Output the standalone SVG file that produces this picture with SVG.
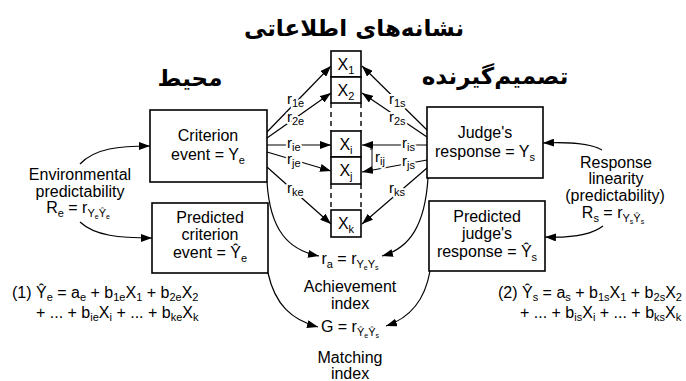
<svg xmlns="http://www.w3.org/2000/svg" width="686" height="381" viewBox="0 0 686 381">
<defs>
<marker id="ah" markerUnits="userSpaceOnUse" markerWidth="11" markerHeight="8" refX="11" refY="4" orient="auto">
<path d="M0,0 L11,4 L0,8 z" fill="#000"/>
</marker>
<style>
.box{fill:#fff;stroke:#000;stroke-width:1.6}
.ln{fill:none;stroke:#000;stroke-width:1.2;marker-end:url(#ah)}
.dash{fill:none;stroke:#000;stroke-width:1.4;stroke-dasharray:5,4}
.t{font-family:"Liberation Sans",Arial,sans-serif;font-size:16px;fill:#000;text-anchor:middle}
.st{text-anchor:start}
.s{font-size:11px}
.ss{font-size:7px}
.r{font-family:"Liberation Sans",Arial,sans-serif;font-size:15px;fill:#000;text-anchor:start;stroke:#fff;stroke-width:4px;paint-order:stroke;stroke-linejoin:round}
.fa{font-family:"DejaVu Sans","Noto Sans",sans-serif;font-weight:bold;font-size:23px;fill:#000;text-anchor:middle}
</style>
</defs>
<rect width="686" height="381" fill="#fff"/>

<text class="fa" x="354" y="36">نشانه‌های اطلاعاتی</text>
<text class="fa" x="190" y="86">محیط</text>
<text class="fa" x="495" y="84">تصمیم‌گیرنده</text>

<g id="connectors">
<path class="ln" d="M267,132 L331,66"/>
<path class="ln" d="M267,138 L331,93"/>
<path class="ln" d="M267,145 L331,145"/>
<path class="ln" d="M267,152 L331,171"/>
<path class="ln" d="M267,167 L331,224"/>
<path class="ln" d="M427,130 L362,66"/>
<path class="ln" d="M427,137 L362,93"/>
<path class="ln" d="M427,145 L362,145"/>
<path class="ln" d="M427,160 L362,172"/>
<path class="ln" d="M427,168 L362,224"/>
<path class="ln" d="M80,164 C95,148 120,146 150,146"/>
<path class="ln" d="M80,222 C95,236 120,238 152,238"/>
<path class="ln" d="M602,150 C590,143 570,142 543,143"/>
<path class="ln" d="M603,226 C590,236 570,238 545,237"/>
<path class="ln" d="M267,182 C270,230 288,250 319,256"/>
<path class="ln" d="M268,273 C275,305 292,320 318,327"/>
<path class="ln" d="M428,178 C425,225 410,248 382,256"/>
<path class="ln" d="M430,271 C425,300 410,318 386,326"/>
<path d="M370,149 L372,149 L372,169 L370,169" fill="none" stroke="#000" stroke-width="1"/>
<text class="r" x="287" y="104">r<tspan class="s" dy="3">1e</tspan></text>
<text class="r" x="287" y="122">r<tspan class="s" dy="3">2e</tspan></text>
<text class="r" x="287" y="148">r<tspan class="s" dy="3">ie</tspan></text>
<text class="r" x="287" y="164">r<tspan class="s" dy="3">je</tspan></text>
<text class="r" x="287" y="193">r<tspan class="s" dy="3">ke</tspan></text>
<text class="r" x="389" y="104">r<tspan class="s" dy="3">1s</tspan></text>
<text class="r" x="389" y="122">r<tspan class="s" dy="3">2s</tspan></text>
<text class="r" x="402" y="148">r<tspan class="s" dy="3">is</tspan></text>
<text class="r" x="402" y="166">r<tspan class="s" dy="3">js</tspan></text>
<text class="r" x="389" y="193">r<tspan class="s" dy="3">ks</tspan></text>
<text class="r" x="375" y="162">r<tspan class="s" dy="3">ij</tspan></text>
</g>

<g id="cues">
<path class="dash" d="M331,103 V131 M361,103 V131 M331,184 V210 M361,184 V210"/>
<g id="x1"><rect class="box" x="331" y="51" width="30" height="26"/><text class="t" x="346" y="70">X<tspan class="s" dy="4">1</tspan></text></g>
<g id="x2"><rect class="box" x="331" y="77" width="30" height="26"/><text class="t" x="346" y="96">X<tspan class="s" dy="4">2</tspan></text></g>
<g id="xi"><rect class="box" x="331" y="131" width="30" height="26"/><text class="t" x="346" y="150">X<tspan class="s" dy="4">i</tspan></text></g>
<g id="xj"><rect class="box" x="331" y="157" width="30" height="27"/><text class="t" x="346" y="176">X<tspan class="s" dy="4">j</tspan></text></g>
<g id="xk"><rect class="box" x="331" y="210" width="30" height="27"/><text class="t" x="346" y="229">X<tspan class="s" dy="4">k</tspan></text></g>
</g>

<g id="criterion"><rect class="box" x="150" y="110" width="117" height="72"/>
<text class="t" x="208" y="141">Criterion</text>
<text class="t" x="208" y="160">event = Y<tspan class="s" dy="4">e</tspan></text></g>

<g id="predicted-criterion"><rect class="box" x="152" y="203" width="116" height="70"/>
<text class="t" x="210" y="223">Predicted</text>
<text class="t" x="210" y="240">criterion</text>
<text class="t" x="210" y="258">event = Ŷ<tspan class="s" dy="4">e</tspan></text></g>

<g id="judge"><rect class="box" x="427" y="107" width="116" height="71"/>
<text class="t" x="485" y="138">Judge's</text>
<text class="t" x="485" y="157">response = Y<tspan class="s" dy="4">s</tspan></text></g>

<g id="predicted-judge"><rect class="box" x="429" y="201" width="116" height="70"/>
<text class="t" x="487" y="222">Predicted</text>
<text class="t" x="487" y="239">judge's</text>
<text class="t" x="487" y="257">response = Ŷ<tspan class="s" dy="4">s</tspan></text></g>

<g id="env-predictability">
<text class="t" x="80" y="180">Environmental</text>
<text class="t" x="80" y="197">predictability</text>
<text class="t" x="78" y="213">R<tspan class="s" dy="4">e</tspan><tspan dy="-4"> = r</tspan><tspan class="s" dy="4">Y</tspan><tspan class="ss" dy="2">e</tspan><tspan class="s" dy="-2">Ŷ</tspan><tspan class="ss" dy="2">e</tspan></text>
</g>

<g id="response-linearity">
<text class="t" x="616" y="168">Response</text>
<text class="t" x="616" y="184">linearity</text>
<text class="t" x="615" y="201">(predictability)</text>
<text class="t" x="613" y="218">R<tspan class="s" dy="4">s</tspan><tspan dy="-4"> = r</tspan><tspan class="s" dy="4">Y</tspan><tspan class="ss" dy="2">s</tspan><tspan class="s" dy="-2">Ŷ</tspan><tspan class="ss" dy="2">s</tspan></text>
</g>

<g id="achievement">
<text class="t" x="350" y="264">r<tspan class="s" dy="4">a</tspan><tspan dy="-4"> = r</tspan><tspan class="s" dy="4">Y</tspan><tspan class="ss" dy="2">e</tspan><tspan class="s" dy="-2">Y</tspan><tspan class="ss" dy="2">s</tspan></text>
<text class="t" x="350" y="292">Achievement</text>
<text class="t" x="350" y="309">index</text>
</g>

<g id="matching">
<text class="t" x="350" y="332">G = r<tspan class="s" dy="4">Ŷ</tspan><tspan class="ss" dy="2">e</tspan><tspan class="s" dy="-2">Ŷ</tspan><tspan class="ss" dy="2">s</tspan></text>
<text class="t" x="350" y="363">Matching</text>
<text class="t" x="350" y="379">index</text>
</g>

<g id="eq1">
<text class="t st" x="12" y="298">(1) Ŷ<tspan class="s" dy="3">e</tspan><tspan dy="-3"> = a</tspan><tspan class="s" dy="3">e</tspan><tspan dy="-3"> + b</tspan><tspan class="s" dy="3">1e</tspan><tspan dy="-3">X</tspan><tspan class="s" dy="3">1</tspan><tspan dy="-3"> + b</tspan><tspan class="s" dy="3">2e</tspan><tspan dy="-3">X</tspan><tspan class="s" dy="3">2</tspan></text>
<text class="t st" x="36" y="318">+ ... + b<tspan class="s" dy="3">ie</tspan><tspan dy="-3">X</tspan><tspan class="s" dy="3">i</tspan><tspan dy="-3"> + ... + b</tspan><tspan class="s" dy="3">ke</tspan><tspan dy="-3">X</tspan><tspan class="s" dy="3">k</tspan></text>
</g>

<g id="eq2">
<text class="t st" x="498" y="298">(2) Ŷ<tspan class="s" dy="3">s</tspan><tspan dy="-3"> = a</tspan><tspan class="s" dy="3">s</tspan><tspan dy="-3"> + b</tspan><tspan class="s" dy="3">1s</tspan><tspan dy="-3">X</tspan><tspan class="s" dy="3">1</tspan><tspan dy="-3"> + b</tspan><tspan class="s" dy="3">2s</tspan><tspan dy="-3">X</tspan><tspan class="s" dy="3">2</tspan></text>
<text class="t st" x="520" y="318">+ ... + b<tspan class="s" dy="3">is</tspan><tspan dy="-3">X</tspan><tspan class="s" dy="3">i</tspan><tspan dy="-3"> + ... + b</tspan><tspan class="s" dy="3">ks</tspan><tspan dy="-3">X</tspan><tspan class="s" dy="3">k</tspan></text>
</g>
</svg>
